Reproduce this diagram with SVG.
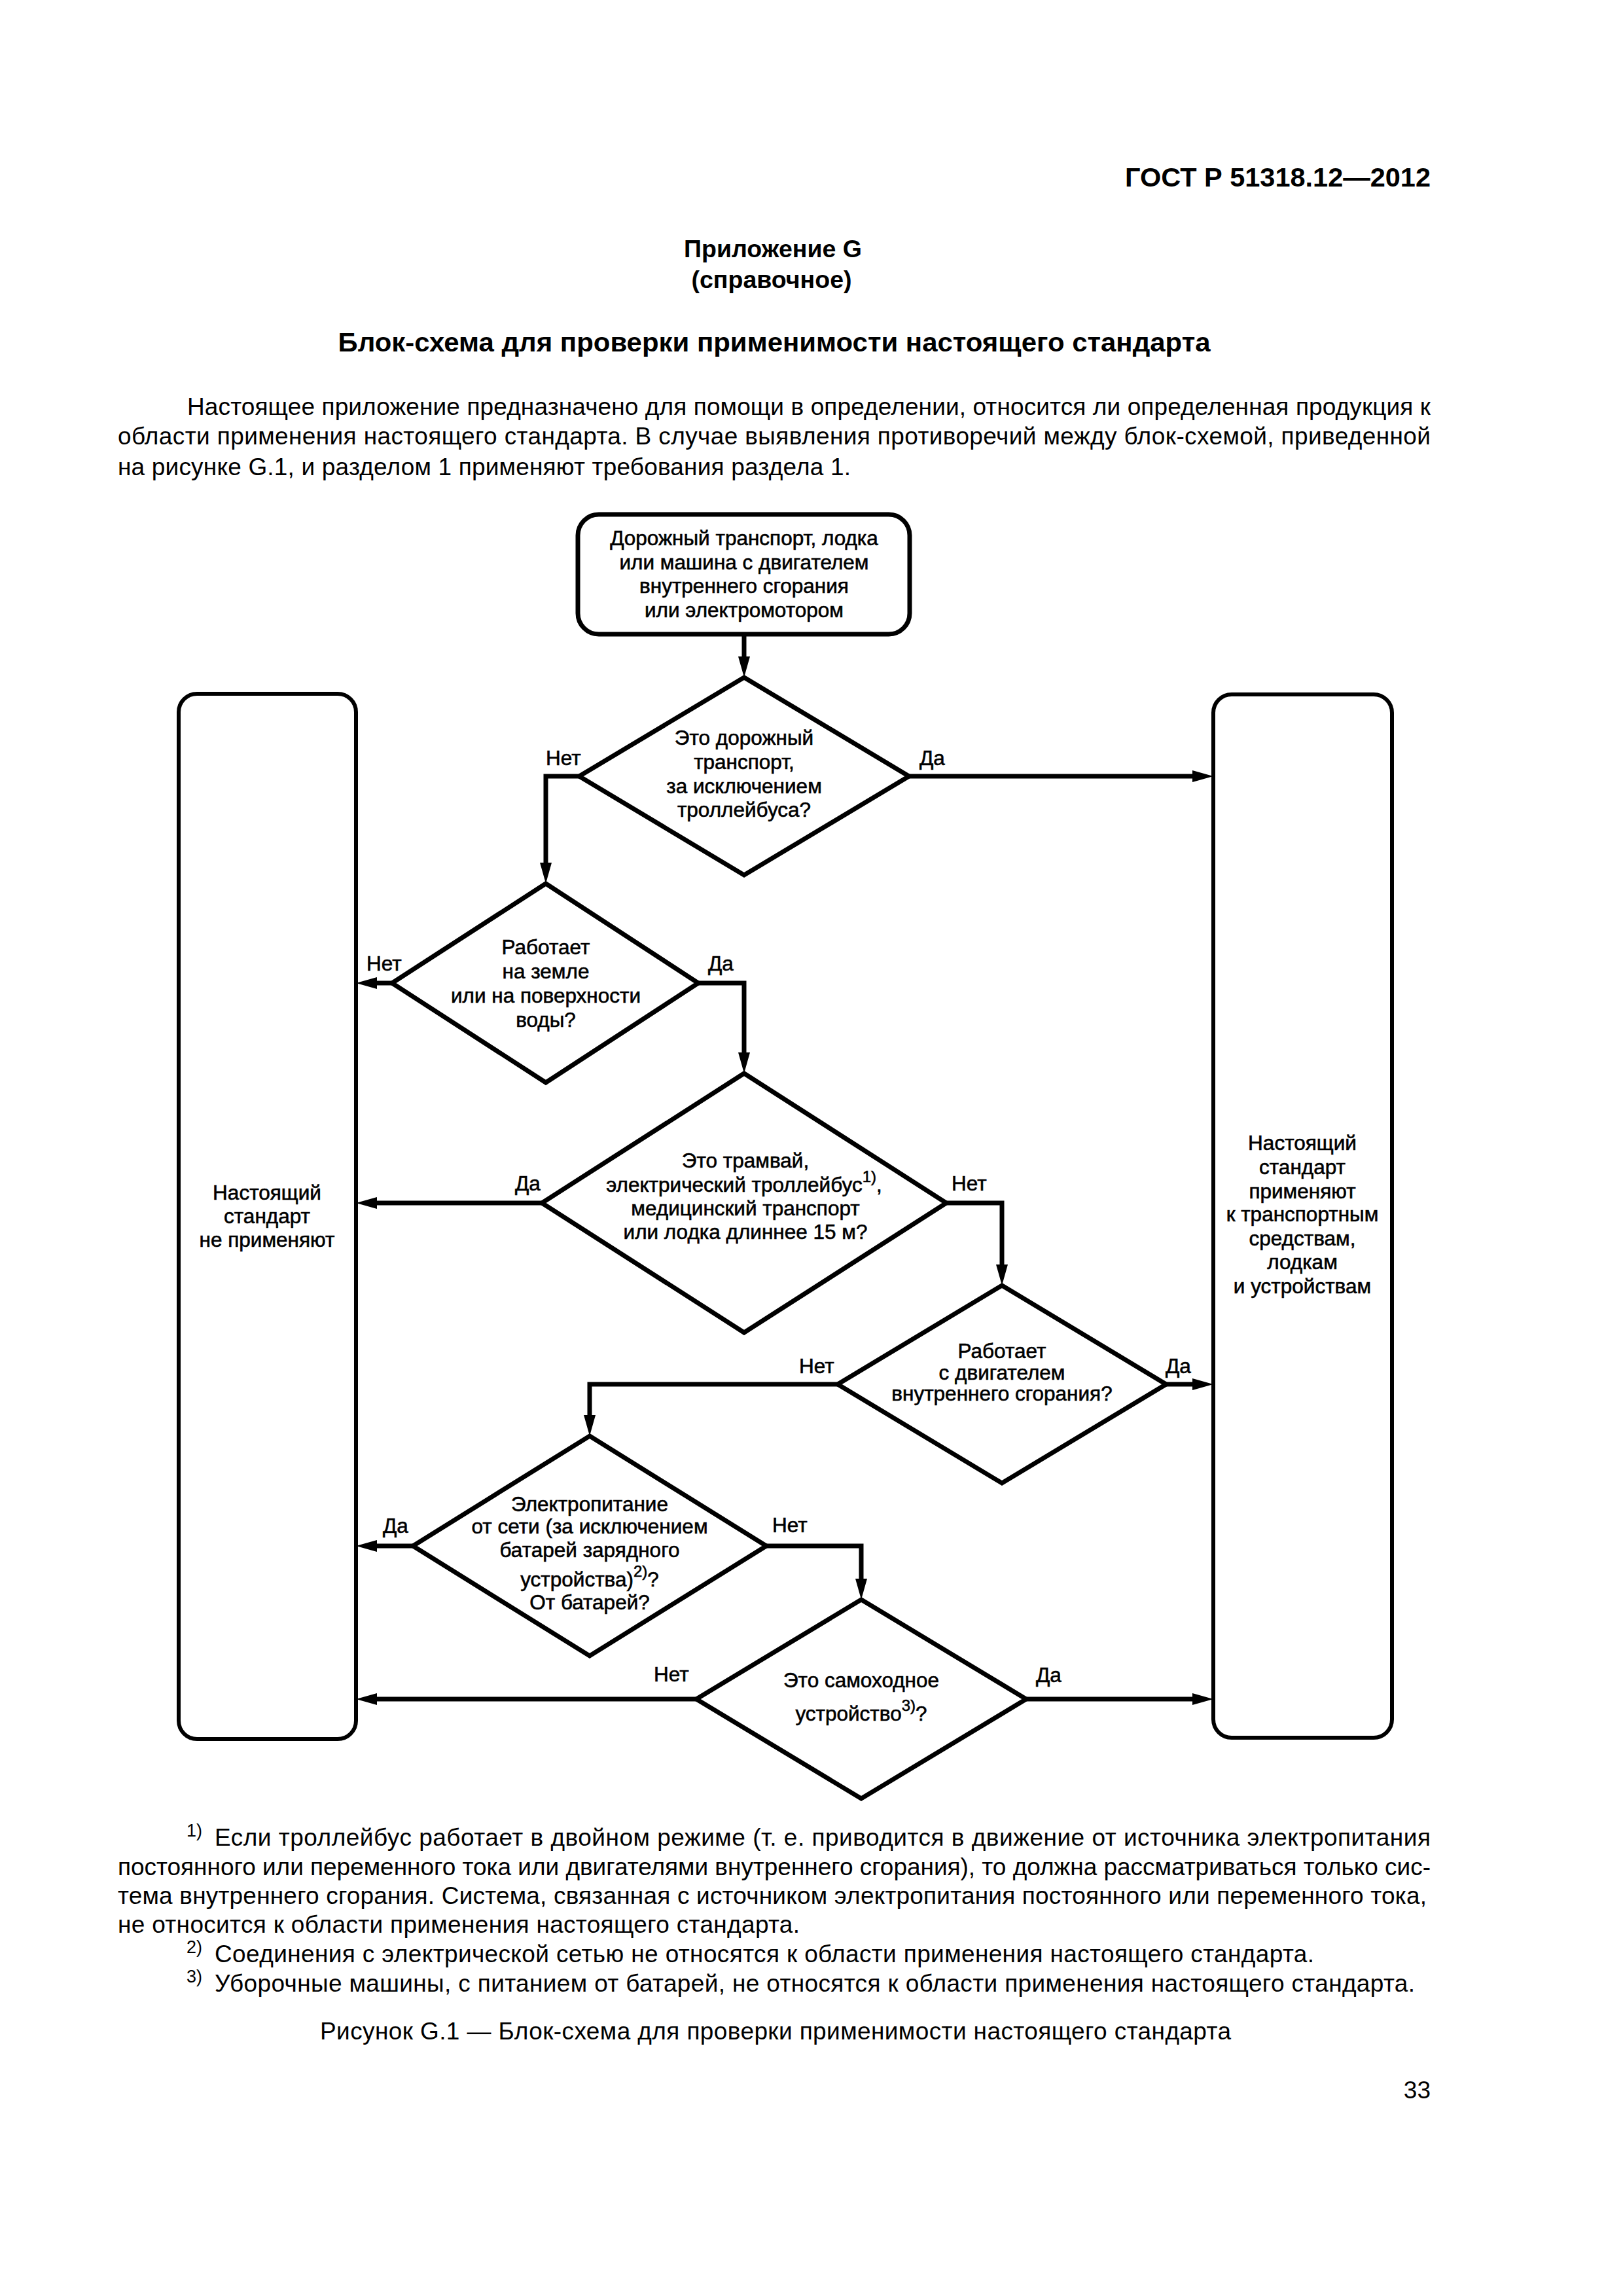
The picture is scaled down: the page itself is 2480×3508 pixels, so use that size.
<svg xmlns="http://www.w3.org/2000/svg" width="2480" height="3508" viewBox="0 0 2480 3508">
<defs>
<style>
text{font-family:"Liberation Sans",Arial,sans-serif;fill:#000}
.pg{font-size:37px}
.hb{font-weight:bold}
.t{font-size:31.5px;text-anchor:middle;stroke:#000;stroke-width:0.6}
.lbl{font-size:31.5px;stroke:#000;stroke-width:0.6}
.sup{font-size:24px}
.fs{font-size:27px}
.box{fill:#fff;stroke:#000;stroke-width:6}
.topbox{fill:#fff;stroke:#000;stroke-width:7}
.dia{fill:#fff;stroke:#000;stroke-width:7;stroke-linejoin:miter}
.con{fill:none;stroke:#000;stroke-width:7;stroke-linejoin:miter;marker-end:url(#ah)}
</style>
<marker id="ah" markerUnits="userSpaceOnUse" markerWidth="32" markerHeight="18" refX="2" refY="9" orient="auto"><path d="M0,0 L32,9 L0,18 z" fill="#000"/></marker>
</defs>
<rect width="2480" height="3508" fill="#fff"/>

<g id="page-text">
<text class="hb" x="2186" y="285" font-size="41" text-anchor="end" textLength="467" lengthAdjust="spacingAndGlyphs">ГОСТ Р 51318.12—2012</text>
<text class="pg hb" x="1181" y="393" text-anchor="middle" textLength="272" lengthAdjust="spacingAndGlyphs">Приложение G</text>
<text class="pg hb" x="1179" y="440" text-anchor="middle" textLength="245" lengthAdjust="spacingAndGlyphs">(справочное)</text>
<text class="hb" x="1183" y="537" font-size="41" text-anchor="middle" textLength="1333" lengthAdjust="spacingAndGlyphs">Блок-схема для проверки применимости настоящего стандарта</text>
<text class="pg" x="286" y="634" textLength="1900" lengthAdjust="spacing">Настоящее приложение предназначено для помощи в определении, относится ли определенная продукция к</text>
<text class="pg" x="180" y="679" textLength="2006" lengthAdjust="spacing">области применения настоящего стандарта. В случае выявления противоречий между блок-схемой, приведенной</text>
<text class="pg" x="180" y="726" textLength="1120" lengthAdjust="spacing">на рисунке G.1, и разделом 1 применяют требования раздела 1.</text>
</g>

<g id="connectors">
<path class="con" d="M1137,969 V1005"/>
<path class="con" d="M885,1186 H834 V1320"/>
<path class="con" d="M1389,1186 H1824"/>
<path class="con" d="M599,1502 H574"/>
<path class="con" d="M1067,1502 H1137 V1610"/>
<path class="con" d="M828,1838 H574"/>
<path class="con" d="M1446,1838 H1531 V1934"/>
<path class="con" d="M1782,2115 H1824"/>
<path class="con" d="M1280,2115 H901 V2164"/>
<path class="con" d="M631,2362 H574"/>
<path class="con" d="M1171,2362 H1316 V2414"/>
<path class="con" d="M1064,2596 H574"/>
<path class="con" d="M1568,2596 H1824"/>
</g>

<g id="labels">
<text class="lbl" x="834" y="1169">Нет</text>
<text class="lbl" x="1405" y="1169">Да</text>
<text class="lbl" x="560" y="1483">Нет</text>
<text class="lbl" x="1082" y="1483">Да</text>
<text class="lbl" x="787" y="1819">Да</text>
<text class="lbl" x="1454" y="1819">Нет</text>
<text class="lbl" x="1221" y="2098">Нет</text>
<text class="lbl" x="1781" y="2098">Да</text>
<text class="lbl" x="585" y="2342">Да</text>
<text class="lbl" x="1180" y="2341">Нет</text>
<text class="lbl" x="999" y="2569">Нет</text>
<text class="lbl" x="1583" y="2570">Да</text>
</g>

<g id="start">
<rect class="topbox" x="883" y="786" width="507" height="183" rx="32" ry="32"/>
<text class="t" x="1137" y="833">Дорожный транспорт, лодка</text>
<text class="t" x="1137" y="870">или машина с двигателем</text>
<text class="t" x="1137" y="906">внутреннего сгорания</text>
<text class="t" x="1137" y="943">или электромотором</text>
</g>

<g id="not-applicable">
<rect class="box" x="273" y="1060" width="271" height="1597" rx="28" ry="28"/>
<text class="t" x="408" y="1833">Настоящий</text>
<text class="t" x="408" y="1869">стандарт</text>
<text class="t" x="408" y="1905">не применяют</text>
</g>

<g id="applicable">
<rect class="box" x="1854" y="1061" width="273" height="1594" rx="28" ry="28"/>
<text class="t" x="1990" y="1757">Настоящий</text>
<text class="t" x="1990" y="1794">стандарт</text>
<text class="t" x="1990" y="1831">применяют</text>
<text class="t" x="1990" y="1866">к транспортным</text>
<text class="t" x="1990" y="1903">средствам,</text>
<text class="t" x="1990" y="1939">лодкам</text>
<text class="t" x="1990" y="1976">и устройствам</text>
</g>

<g id="d1">
<polygon class="dia" points="1137,1035 1389,1186 1137,1337 885,1186"/>
<text class="t" x="1137" y="1138">Это дорожный</text>
<text class="t" x="1137" y="1175">транспорт,</text>
<text class="t" x="1137" y="1212">за исключением</text>
<text class="t" x="1137" y="1248">троллейбуса?</text>
</g>

<g id="d2">
<polygon class="dia" points="834,1350 1067,1502 834,1654 599,1502"/>
<text class="t" x="834" y="1458">Работает</text>
<text class="t" x="834" y="1495">на земле</text>
<text class="t" x="834" y="1532">или на поверхности</text>
<text class="t" x="834" y="1569">воды?</text>
</g>

<g id="d3">
<polygon class="dia" points="1137,1640 1446,1838 1137,2036 828,1838"/>
<text class="t" x="1139" y="1784">Это трамвай,</text>
<text class="t" x="1137" y="1821">электрический троллейбус<tspan class="sup" dy="-15">1)</tspan><tspan dy="15">,</tspan></text>
<text class="t" x="1139" y="1857">медицинский транспорт</text>
<text class="t" x="1139" y="1893">или лодка длиннее 15 м?</text>
</g>

<g id="d4">
<polygon class="dia" points="1531,1964 1782,2115 1531,2266 1280,2115"/>
<text class="t" x="1531" y="2075">Работает</text>
<text class="t" x="1531" y="2108">с двигателем</text>
<text class="t" x="1531" y="2140">внутреннего сгорания?</text>
</g>

<g id="d5">
<polygon class="dia" points="901,2194 1171,2362 901,2530 631,2362"/>
<text class="t" x="901" y="2309">Электропитание</text>
<text class="t" x="901" y="2343">от сети (за исключением</text>
<text class="t" x="901" y="2379">батарей зарядного</text>
<text class="t" x="901" y="2424">устройства)<tspan class="sup" dy="-15">2)</tspan><tspan dy="15">?</tspan></text>
<text class="t" x="901" y="2459">От батарей?</text>
</g>

<g id="d6">
<polygon class="dia" points="1316,2444 1568,2596 1316,2748 1064,2596"/>
<text class="t" x="1316" y="2578">Это самоходное</text>
<text class="t" x="1316" y="2629">устройство<tspan class="sup" dy="-15">3)</tspan><tspan dy="15">?</tspan></text>
</g>

<g id="footnotes">
<text class="fs" x="285" y="2806">1)</text>
<text class="pg" x="328" y="2820" textLength="1858" lengthAdjust="spacing">Если троллейбус работает в двойном режиме (т. е. приводится в движение от источника электропитания</text>
<text class="pg" x="180" y="2865" textLength="2006" lengthAdjust="spacing">постоянного или переменного тока или двигателями внутреннего сгорания), то должна рассматриваться только сис-</text>
<text class="pg" x="180" y="2909" textLength="2000" lengthAdjust="spacing">тема внутреннего сгорания. Система, связанная с источником электропитания постоянного или переменного тока,</text>
<text class="pg" x="180" y="2953" textLength="1042" lengthAdjust="spacing">не относится к области применения настоящего стандарта.</text>
<text class="fs" x="285" y="2984">2)</text>
<text class="pg" x="328" y="2998" textLength="1680" lengthAdjust="spacing">Соединения с электрической сетью не относятся к области применения настоящего стандарта.</text>
<text class="fs" x="285" y="3029">3)</text>
<text class="pg" x="328" y="3043" textLength="1834" lengthAdjust="spacing">Уборочные машины, с питанием от батарей, не относятся к области применения настоящего стандарта.</text>
<text class="pg" x="1185" y="3116" text-anchor="middle" textLength="1392" lengthAdjust="spacing">Рисунок G.1 — Блок-схема для проверки применимости настоящего стандарта</text>
<text class="pg" x="2186" y="3206" text-anchor="end">33</text>
</g>
</svg>
